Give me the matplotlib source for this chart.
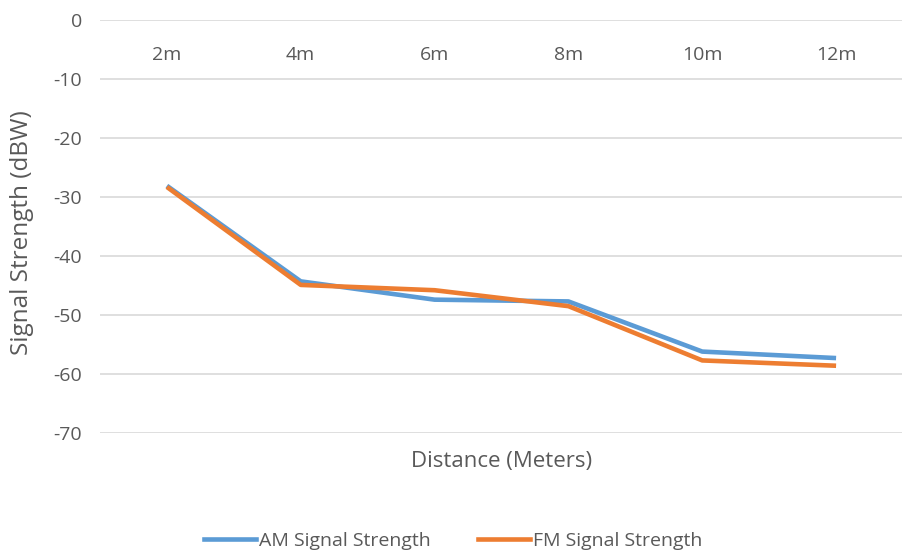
import matplotlib
matplotlib.use("Agg")
import matplotlib.pyplot as plt
from matplotlib.lines import Line2D

plt.rcParams['font.family'] = ['Open Sans', 'DejaVu Sans']

categories = ["2m", "4m", "6m", "8m", "10m", "12m"]
am_strength = [-28.1, -44.3, -47.4, -47.7, -56.2, -57.3]
fm_strength = [-28.3, -44.9, -45.8, -48.5, -57.7, -58.6]
y_ticks = [0, -10, -20, -30, -40, -50, -60, -70]

AM_COLOR = "#5B9BD5"
FM_COLOR = "#ED7D31"
TEXT_COLOR = "#595959"
GRID_COLOR = "#D9D9D9"

fig = plt.figure(figsize=(9.03, 5.57), dpi=100)
ax = fig.add_axes([100 / 903, 1 - 433 / 557, 1 - 100 / 903, (433 - 20) / 557])

x = list(range(len(categories)))
ax.plot(x, am_strength, color=AM_COLOR, lw=3.3, solid_capstyle="butt", solid_joinstyle="round", label="AM Signal Strength")
ax.plot(x, fm_strength, color=FM_COLOR, lw=3.3, solid_capstyle="butt", solid_joinstyle="round", label="FM Signal Strength")

ax.set_xlim(-0.5, len(categories) - 0.5)
ax.set_ylim(-70, 0)
ax.set_yticks(y_ticks)
ax.set_yticklabels([str(v) for v in y_ticks])
ax.tick_params(axis="y", length=0, pad=13, labelsize=14, labelcolor=TEXT_COLOR)
ax.set_xticks([])
ax.grid(axis="y", color=GRID_COLOR, lw=1.2)
ax.set_axisbelow(True)
for s in ax.spines.values():
    s.set_visible(False)

# Category labels sit just under the zero line
for xi, lab in zip(x, categories):
    ax.text(xi, -6.0, lab, ha="center", va="center", fontsize=14, color=TEXT_COLOR)

fig.text(502 / 903, 1 - 461 / 557, "Distance (Meters)", ha="center", va="center",
         fontsize=16, color=TEXT_COLOR)
fig.text(22 / 903, 1 - 233 / 557, "Signal Strength (dBW)", rotation=90, ha="center", va="center",
         fontsize=17.5, color=TEXT_COLOR)

handles = [Line2D([], [], color=AM_COLOR, lw=3.3), Line2D([], [], color=FM_COLOR, lw=3.3)]
fig.legend(handles, ["AM Signal Strength", "FM Signal Strength"], loc="center",
           bbox_to_anchor=(453 / 903, 1 - 541 / 557), ncol=2, frameon=False, fontsize=14,
           labelcolor=TEXT_COLOR, handlelength=2.7, handletextpad=0.15, columnspacing=2.4)

fig.savefig("out.png", dpi=100)
